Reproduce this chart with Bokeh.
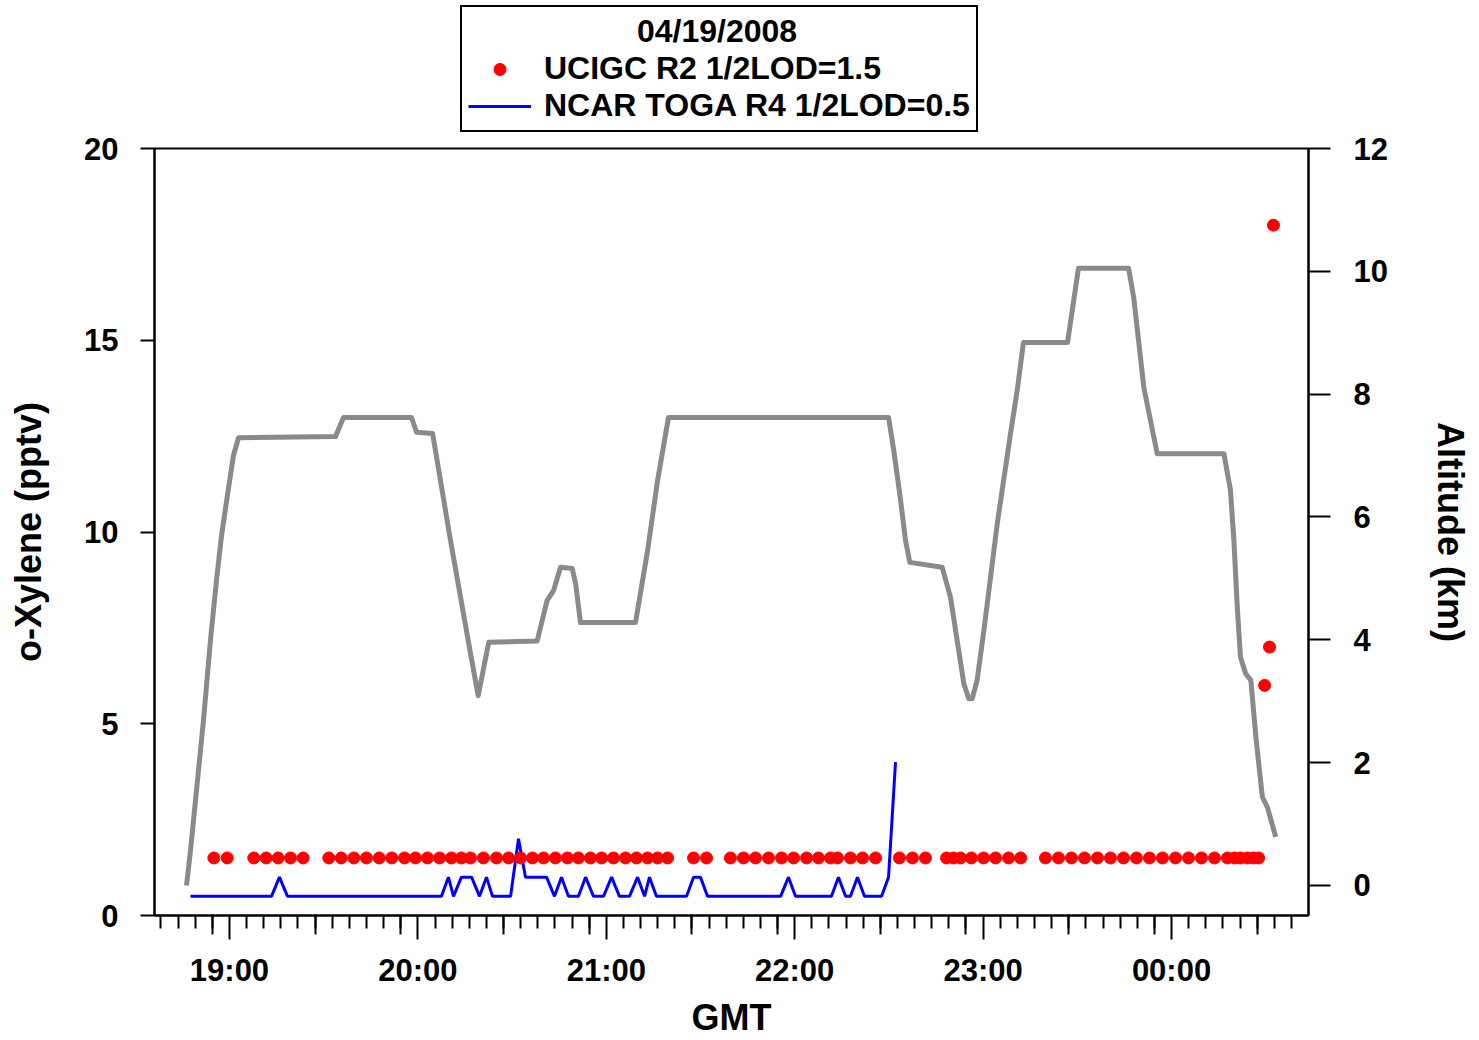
from bokeh.plotting import figure
from bokeh.layouts import column
from bokeh.models import Range1d, LinearAxis, FixedTicker, Legend, LegendItem
from bokeh.embed import file_html
from bokeh.resources import INLINE

# ---------------- data (time in decimal GMT hours; 24.x = after midnight) -------------
DATE_TITLE = "04/19/2008"
UCI_NAME = "UCIGC R2 1/2LOD=1.5"
NCAR_NAME = "NCAR TOGA R4 1/2LOD=0.5"

UCI_TIME = [18.917, 18.988, 19.129, 19.195, 19.258, 19.324, 19.391, 19.527, 19.593, 19.660,
            19.727, 19.795, 19.861, 19.929, 19.987, 20.051, 20.115, 20.178, 20.231, 20.279,
            20.348, 20.417, 20.481, 20.545, 20.608, 20.667, 20.730, 20.794, 20.852, 20.916,
            20.975, 21.038, 21.102, 21.160, 21.219, 21.272, 21.325, 21.463, 21.532, 21.659,
            21.728, 21.792, 21.861, 21.930, 21.994, 22.063, 22.126, 22.190, 22.227, 22.296,
            22.360, 22.429, 22.556, 22.625, 22.694, 22.806, 22.843, 22.880, 22.938, 23.002,
            23.066, 23.135, 23.199, 23.331, 23.400, 23.469, 23.538, 23.607, 23.676, 23.745,
            23.814, 23.883, 23.952, 24.021, 24.090, 24.159, 24.228, 24.297, 24.334, 24.366,
            24.403, 24.435, 24.462, 24.494, 24.520, 24.541]
UCI_PPTV = [1.5, 1.5, 1.5, 1.5, 1.5, 1.5, 1.5, 1.5, 1.5, 1.5,
            1.5, 1.5, 1.5, 1.5, 1.5, 1.5, 1.5, 1.5, 1.5, 1.5,
            1.5, 1.5, 1.5, 1.5, 1.5, 1.5, 1.5, 1.5, 1.5, 1.5,
            1.5, 1.5, 1.5, 1.5, 1.5, 1.5, 1.5, 1.5, 1.5, 1.5,
            1.5, 1.5, 1.5, 1.5, 1.5, 1.5, 1.5, 1.5, 1.5, 1.5,
            1.5, 1.5, 1.5, 1.5, 1.5, 1.5, 1.5, 1.5, 1.5, 1.5,
            1.5, 1.5, 1.5, 1.5, 1.5, 1.5, 1.5, 1.5, 1.5, 1.5,
            1.5, 1.5, 1.5, 1.5, 1.5, 1.5, 1.5, 1.5, 1.5, 1.5,
            1.5, 1.5, 1.5, 6.0, 7.0, 18.0]

NCAR_TIME = [18.793, 19.223, 19.265, 19.308, 20.125, 20.162, 20.189, 20.231, 20.285, 20.327,
             20.364, 20.396, 20.492, 20.534, 20.571, 20.683, 20.725, 20.762, 20.799, 20.852,
             20.890, 20.932, 20.985, 21.028, 21.070, 21.123, 21.166, 21.203, 21.229, 21.266,
             21.426, 21.463, 21.500, 21.537, 21.925, 21.967, 22.004, 22.195, 22.232, 22.270,
             22.296, 22.333, 22.370, 22.461, 22.498, 22.535]
NCAR_PPTV = [0.5, 0.5, 1.0, 0.5, 0.5, 1.0, 0.5, 1.0, 1.0, 0.5,
             1.0, 0.5, 0.5, 2.0, 1.0, 1.0, 0.5, 1.0, 0.5, 0.5,
             1.0, 0.5, 0.5, 1.0, 0.5, 0.5, 1.0, 0.5, 1.0, 0.5,
             0.5, 1.0, 1.0, 0.5, 0.5, 1.0, 0.5, 0.5, 1.0, 0.5,
             0.5, 1.0, 0.5, 0.5, 1.0, 4.0]

ALT_TIME = [18.772, 18.793, 18.825, 18.862, 18.899, 18.931, 18.958, 18.989, 19.021, 19.048,
            19.563, 19.605, 19.966, 19.993, 20.078, 20.173, 20.279, 20.320, 20.376, 20.633,
            20.686, 20.720, 20.757, 20.819, 20.837, 20.863, 21.155, 21.219, 21.272, 21.330,
            22.498, 22.526, 22.562, 22.588, 22.611, 22.783, 22.827, 22.862, 22.898, 22.924,
            22.942, 22.968, 23.004, 23.075, 23.145, 23.181, 23.214, 23.448, 23.506, 23.772,
            23.799, 23.853, 23.924, 24.278, 24.313, 24.331, 24.349, 24.366, 24.393, 24.421,
            24.448, 24.482, 24.509, 24.553]
ALT_KM = [0.00, 0.57, 1.55, 2.69, 3.99, 4.97, 5.70, 6.35, 7.00, 7.29,
          7.31, 7.62, 7.62, 7.38, 7.36, 5.62, 3.78, 3.09, 3.96, 3.98,
          4.64, 4.80, 5.18, 5.16, 4.92, 4.28, 4.28, 5.45, 6.59, 7.62,
          7.62, 7.08, 6.27, 5.62, 5.26, 5.18, 4.69, 3.99, 3.28, 3.04,
          3.04, 3.34, 4.15, 5.89, 7.35, 8.06, 8.84, 8.84, 10.05, 10.05,
          9.58, 8.11, 7.03, 7.03, 6.43, 5.62, 4.53, 3.72, 3.45, 3.34,
          2.41, 1.44, 1.27, 0.79]

HOUR_TICKS = [19, 20, 21, 22, 23, 24]
HOUR_LABELS = ["19:00", "20:00", "21:00", "22:00", "23:00", "00:00"]
LEFT_TICKS = [0, 5, 10, 15, 20]
RIGHT_TICKS = [0, 2, 4, 6, 8, 10, 12]

# ---------------- styling ----------------
FONT = "Liberation Sans"
X_START, X_END = 18.602, 24.727
Y_START, Y_END = 0, 20
ALT_START, ALT_END = -0.49, 12
UCI_COLOR, NCAR_COLOR, ALT_COLOR = "#ff0000", "#0000ff", "#8a8a8a"
TOP_H = 132

# 11 sub-ticks per hour; every 5th one is drawn longer
minor = []
medium = []
for hr in range(18, 25):
    for k in range(1, 11):
        t = hr + k / 11.0
        if X_START <= t <= X_END:
            minor.append(t)
            if k in (5, 10):
                medium.append(t)

p = figure(width=1479, height=1040 - TOP_H, output_backend="svg", toolbar_location=None,
           x_range=Range1d(X_START, X_END), y_range=Range1d(Y_START, Y_END),
           x_axis_location=None, y_axis_location=None,
           min_border_left=154, min_border_right=171, min_border_top=148 - TOP_H,
           min_border_bottom=125)
p.extra_y_ranges = {"alt": Range1d(ALT_START, ALT_END)}
p.xgrid.visible = False
p.ygrid.visible = False
p.outline_line_color = "black"
p.outline_line_width = 2
p.background_fill_color = "white"
p.border_fill_color = "white"


def style_axis(ax):
    ax.axis_line_width = 2
    ax.axis_line_color = "black"
    ax.major_tick_line_width = 2
    ax.minor_tick_line_width = 2
    ax.major_tick_line_color = "black"
    ax.minor_tick_line_color = "black"
    ax.major_tick_in = 0
    ax.minor_tick_in = 0
    ax.major_label_text_font = FONT
    ax.major_label_text_font_style = "bold"
    ax.major_label_text_font_size = "31px"
    ax.major_label_text_color = "black"
    ax.axis_label_text_font = FONT
    ax.axis_label_text_font_style = "bold"
    ax.axis_label_text_font_size = "36px"
    ax.axis_label_text_color = "black"


# inner bottom axis: the short sub-ticks only
xsub = LinearAxis(ticker=FixedTicker(ticks=[], minor_ticks=minor))
style_axis(xsub)
xsub.major_tick_out = 0
xsub.minor_tick_out = 13
xsub.major_label_standoff = 0
xsub.axis_label_standoff = 0
xsub.major_label_text_font_size = "0px"
p.add_layout(xsub, "below")

# outer bottom axis: hour ticks + the longer sub-ticks reach back up to the frame
xaxis = LinearAxis(axis_label="GMT",
                   ticker=FixedTicker(ticks=HOUR_TICKS, minor_ticks=medium),
                   major_label_overrides=dict(zip(HOUR_TICKS, HOUR_LABELS)))
style_axis(xaxis)
xaxis.axis_line_color = None
xaxis.major_tick_in = 13
xaxis.major_tick_out = 11
xaxis.minor_tick_in = 13
xaxis.minor_tick_out = 6
xaxis.major_label_standoff = 13
xaxis.axis_label_standoff = 6
p.add_layout(xaxis, "below")

yaxis = LinearAxis(axis_label="o-Xylene (pptv)", ticker=FixedTicker(ticks=LEFT_TICKS))
style_axis(yaxis)
yaxis.major_tick_out = 14
yaxis.minor_tick_out = 0
yaxis.major_label_standoff = 22
yaxis.axis_label_standoff = 32
p.add_layout(yaxis, "left")

raxis = LinearAxis(axis_label="Altitude (km)", y_range_name="alt",
                   ticker=FixedTicker(ticks=RIGHT_TICKS))
style_axis(raxis)
raxis.major_tick_out = 22
raxis.minor_tick_out = 0
raxis.major_label_standoff = 23
raxis.axis_label_standoff = 39
p.add_layout(raxis, "right")

# ---------------- data renderers ----------------
p.line(ALT_TIME, ALT_KM, y_range_name="alt", line_color=ALT_COLOR, line_width=5,
       line_join="round")
p.line(NCAR_TIME, NCAR_PPTV, line_color=NCAR_COLOR, line_width=3)
p.scatter(UCI_TIME, UCI_PPTV, size=12, fill_color=UCI_COLOR, line_color=UCI_COLOR)

# ---------------- legend strip above the chart ----------------
top = figure(width=1479, height=TOP_H, output_backend="svg", toolbar_location=None,
             x_range=Range1d(0, 1), y_range=Range1d(0, 1),
             x_axis_location=None, y_axis_location=None, min_border=0)
top.xgrid.visible = False
top.ygrid.visible = False
top.outline_line_color = None
top.background_fill_color = "white"
top.border_fill_color = "white"
# key renderers (same series; they fall outside this strip's ranges, only the key shows)
key_uci = top.scatter(UCI_TIME, UCI_PPTV, size=12, fill_color=UCI_COLOR, line_color=UCI_COLOR)
key_ncar = top.line(NCAR_TIME, NCAR_PPTV, line_color=NCAR_COLOR, line_width=3)

legend = Legend(items=[LegendItem(label=UCI_NAME, renderers=[key_uci]),
                       LegendItem(label=NCAR_NAME, renderers=[key_ncar])],
                location=(306, 0), title="\u00a0" * 19 + DATE_TITLE,
                title_text_font=FONT, title_text_font_size="32px",
                title_text_font_style="bold", title_text_color="black",
                title_standoff=0,
                label_text_font=FONT, label_text_font_size="32px",
                label_text_font_style="bold", label_text_color="black",
                glyph_width=63, glyph_height=30, label_standoff=13,
                spacing=0, padding=6, margin=0,
                border_line_color="black", border_line_width=2, border_line_alpha=1,
                background_fill_color="white", background_fill_alpha=1)
top.add_layout(legend)

layout = column(top, p, spacing=0)
open("out.html", "w").write(file_html(layout, INLINE))
